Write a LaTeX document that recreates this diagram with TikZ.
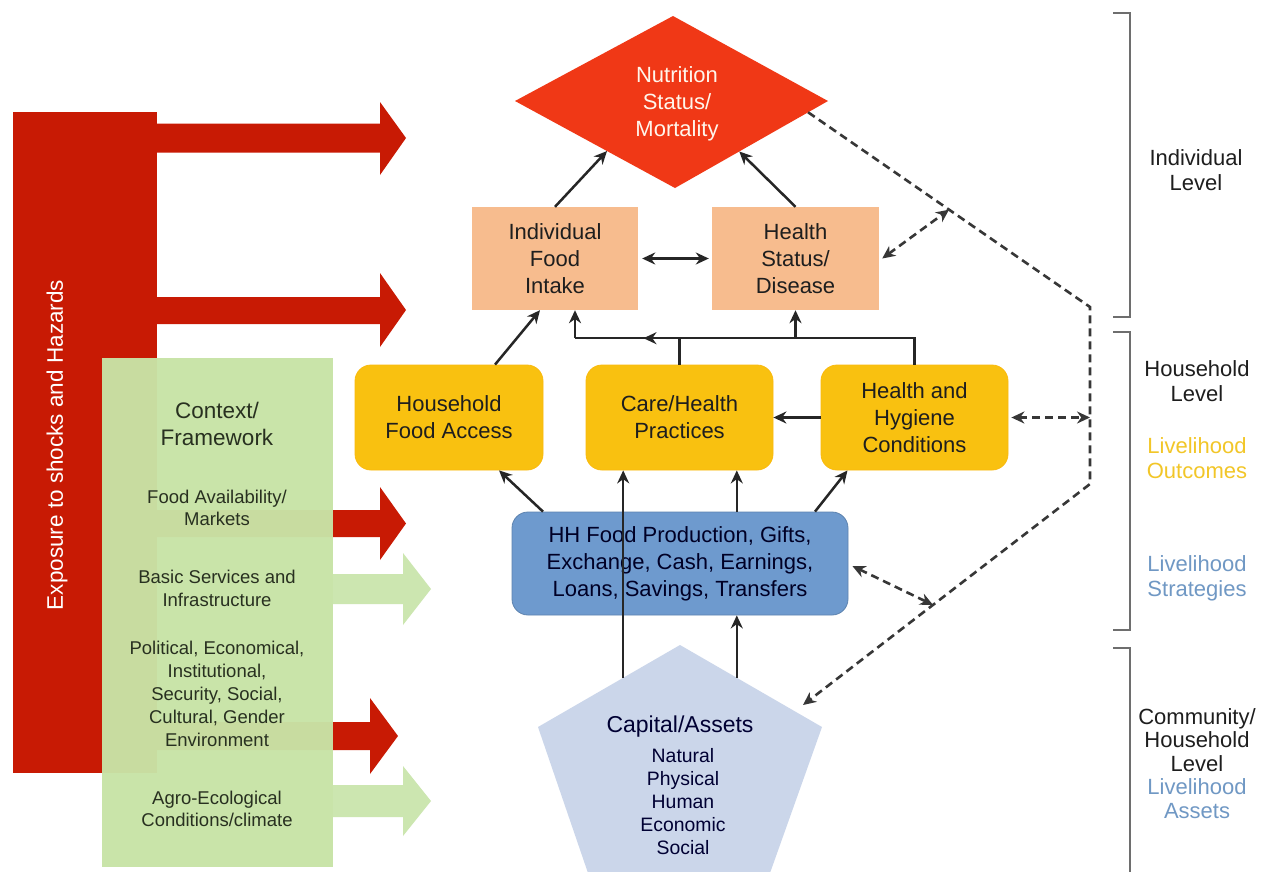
\documentclass[tikz,border=0pt]{standalone}
\usepackage{fontspec}
\setmainfont{Liberation Sans}
\usetikzlibrary{arrows.meta,calc}
\definecolor{redbar}{RGB}{200,26,4}
\definecolor{diam}{RGB}{240,56,22}
\definecolor{peach}{RGB}{247,188,142}
\definecolor{gold}{RGB}{249,193,16}
\definecolor{hhblue}{RGB}{110,154,206}
\definecolor{pent}{RGB}{203,214,234}
\definecolor{ctxgreen}{RGB}{200,228,166}
\definecolor{arrgreen}{RGB}{204,230,176}
\definecolor{lvyellow}{RGB}{242,198,40}
\definecolor{lvblue}{RGB}{112,152,196}
\definecolor{dashc}{RGB}{55,55,55}
\definecolor{txt}{RGB}{30,30,30}
\definecolor{gtxt}{RGB}{40,48,32}
\definecolor{brk}{RGB}{110,110,110}
\begin{document}
\begin{tikzpicture}[x=1pt,y=-1pt,
  >={Stealth[length=13pt,width=12pt]},
  big/.style={font=\fontsize{22}{27}\selectfont, align=center, text=txt},
  small/.style={font=\fontsize{18.5}{22.5}\selectfont, align=center, text=gtxt},
  peachbox/.style={big, fill=peach, minimum width=166pt, minimum height=103pt, inner sep=0pt},
  goldbox/.style={big, fill=gold, draw=gold!90!orange, line width=0.8pt, rounded corners=16pt, minimum width=187pt, minimum height=105pt, inner sep=0pt},
  wire/.style={line width=2.5pt, draw=black!85},
  dline/.style={line width=2.6pt, draw=dashc, dash pattern=on 8pt off 5pt},
  lbl/.style={font=\fontsize{22}{25}\selectfont, align=center, text=txt}
]
\useasboundingbox (0,0) rectangle (1267,871);
\fill[white] (0,0) rectangle (1267,871);

% ---- Exposure bar and red arrows
\fill[redbar] (13,112) rectangle (157,773);
\fill[redbar] (157,123.5) -- (380,123.5) -- (380,102) -- (406,138) -- (380,175) -- (380,152.5) -- (157,152.5) -- cycle;
\fill[redbar] (157,297) -- (380,297) -- (380,273) -- (406,310) -- (380,347) -- (380,324) -- (157,324) -- cycle;
\fill[redbar] (157,510) -- (380,510) -- (380,487) -- (406,523.5) -- (380,560) -- (380,537) -- (157,537) -- cycle;
\fill[redbar] (157,722) -- (370,722) -- (370,698) -- (398,736) -- (370,774) -- (370,750) -- (157,750) -- cycle;
\node[rotate=90, text=white, font=\fontsize{22.5}{27}\selectfont] (expo) at (57,445) {Exposure to shocks and Hazards};

% ---- Context box and green arrows
\fill[ctxgreen, fill opacity=0.965] (102,358) rectangle (333,867);
\fill[arrgreen] (333,574) -- (403,574) -- (403,553) -- (431,589) -- (403,625) -- (403,604) -- (333,604) -- cycle;
\fill[arrgreen] (333,785) -- (403,785) -- (403,766) -- (431,801) -- (403,836) -- (403,817) -- (333,817) -- cycle;
\node[font=\fontsize{22.5}{27}\selectfont, align=center, text=gtxt] (ctx) at (217,423.5) {Context/\\Framework};
\node[small] (food) at (217,508) {Food Availability/\\Markets};
\node[small] (basic) at (217,588.5) {Basic Services and\\Infrastructure};
\node[small, font=\fontsize{18.5}{23}\selectfont] (pol) at (217,694) {Political, Economical,\\Institutional,\\Security, Social,\\Cultural, Gender\\Environment};
\node[small] (agro) at (217,809) {Agro-Ecological\\Conditions/climate};

% ---- Diamond
\coordinate (dL) at (515,101);
\coordinate (dT) at (673,16);
\coordinate (dR) at (828,101);
\coordinate (dB) at (675,188);
\fill[diam] (dL) -- (dT) -- (dR) -- (dB) -- cycle;
\node[font=\fontsize{22}{27}\selectfont, align=center, text=white!92!orange] (nut) at (677,104) {Nutrition\\Status/\\Mortality};

% ---- Boxes
\node[peachbox] (ifi) at (555,258.5) {Individual\\Food\\Intake};
\node[peachbox, minimum width=167pt] (hsd) at (795.5,258.5) {Health\\Status/\\Disease};
\node[goldbox, minimum width=188pt] (hfa) at (449,417.5) {Household\\Food Access};
\node[goldbox] (care) at (679.5,417.5) {Care/Health\\Practices};
\node[goldbox] (hh) at (914.5,417.5) {Health and\\Hygiene\\Conditions};
\node[big, fill=hhblue, draw=hhblue!85!black, line width=0.8pt, rounded corners=16pt, minimum width=336pt, minimum height=103pt, inner sep=0pt, text=black!85!blue] (blue) at (680,563.5) {HH Food Production, Gifts,\\Exchange, Cash, Earnings,\\Loans, Savings, Transfers};

% ---- Pentagon
\coordinate (pT) at (680,645);
\coordinate (pL) at (538,727);
\coordinate (pR) at (822,727);
\coordinate (pBL) at (588,873);
\coordinate (pBR) at (770,873);
\fill[pent] (pT) -- (pR) -- (pBR) -- (pBL) -- (pL) -- cycle;
\node[font=\fontsize{23}{27}\selectfont, text=black!80!blue] (cap) at (680,727) {Capital/Assets};
\node[font=\fontsize{19.4}{23}\selectfont, align=center, text=black!80!blue] (capl) at (683,802) {Natural\\Physical\\Human\\Economic\\Social};

% ---- Solid connectors
\draw[wire,->] (ifi.north) -- ($(dL)!0.575!(dB)$);
\draw[wire,->] (hsd.north) -- ($(dR)!0.58!(dB)$);
\draw[wire,<->] ([xshift=4pt]ifi.east) -- ([xshift=-3pt]hsd.west);
\draw[wire,->] ([xshift=46pt]hfa.north) -- ([xshift=-15pt]ifi.south);
\coordinate (busL) at ($(ifi.south)+(20,28)$);
\draw[wire] (care.north) -- (care.north |- busL);
\draw[wire] (hh.north) -- (hh.north |- busL) -- (busL);
\draw[wire,->] (busL) -- (busL |- ifi.south);
\draw[wire,->] (care.north |- busL) -- ($(care.north |- busL)+(-36,0)$);
\draw[wire,->] (hsd.south |- busL) -- (hsd.south);
\draw[wire,->] (hh.west) -- (care.east);
\draw[wire,->] ([xshift=-137pt]blue.north) -- ([xshift=50pt]hfa.south);
\draw[wire,->] ([xshift=135pt]blue.north) -- ([xshift=-67pt]hh.south);
\coordinate (pA) at ($(pT)!0.40!(pL)$);
\coordinate (pB) at ($(pT)!0.40!(pR)$);
\draw[wire,->] (pA) -- (pA |- care.south);
\draw[wire,->] (pB) -- (pB |- blue.south);
\draw[wire,->] (pB |- blue.north) -- (pB |- care.south);

% ---- Dashed feedback lines
\coordinate (dS) at ($(dR)!0.13!(dB)$);
\coordinate (dC1) at (1090,307);
\coordinate (dC2) at (1090,484);
\coordinate (dE) at (803,705);
\draw[dline,->] (dS) -- (dC1) -- (dC2) -- (dE);
\coordinate (jU) at ($(dS)!0.5!(dC1)$);
\coordinate (jL) at ($(dC2)!0.547!(dE)$);
\draw[dline,<->] ([xshift=3pt]hsd.east) -- (jU);
\draw[dline,<->] ([xshift=3pt]hh.east) -- (hh.east -| dC2);
\draw[dline,<->] ([shift={(4pt,-2.5pt)}]blue.east) -- (jL);

% ---- Level brackets
\draw[brk, line width=2pt] (1113,13) -- (1130,13) -- (1130,317) -- (1113,317);
\draw[brk, line width=2pt] (1113,332) -- (1130,332) -- (1130,630) -- (1113,630);
\draw[brk, line width=2pt] (1113,648) -- (1130,648) -- (1130,875);
\node[lbl] (lind) at (1196,170) {Individual\\Level};
\node[lbl] (lhh) at (1197,381) {Household\\Level};
\node[lbl, text=lvyellow] (lout) at (1197,458) {Livelihood\\Outcomes};
\node[lbl, text=lvblue] (lstr) at (1197,578) {Livelihood\\Strategies};
\node[lbl, font=\fontsize{22}{23.5}\selectfont] (lcom) at (1197,740) {Community/\\Household\\Level};
\node[lbl, font=\fontsize{22}{23.5}\selectfont, text=lvblue] (lass) at (1197,798.5) {Livelihood\\Assets};
\end{tikzpicture}
\end{document}
